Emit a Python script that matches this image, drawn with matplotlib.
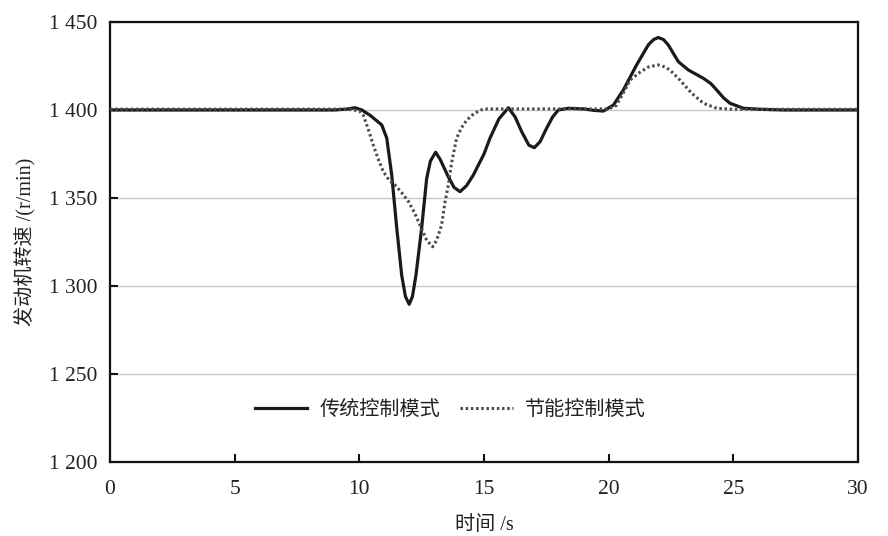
import matplotlib
matplotlib.use("Agg")
import matplotlib.pyplot as plt

# ---- data ----
t_trad = [0, 9.0, 9.5, 9.83, 10.1, 10.43, 10.9, 11.1, 11.3, 11.5, 11.7, 11.85, 12.0,
          12.13, 12.27, 12.5, 12.7, 12.85, 13.06, 13.24, 13.57, 13.8, 14.04, 14.3,
          14.57, 15.0, 15.24, 15.6, 15.98, 16.25, 16.51, 16.8, 17.02, 17.25, 17.51,
          17.75, 17.98, 18.38, 19.0, 19.4, 19.79, 20.19, 20.59, 21.12, 21.59, 21.8,
          21.99, 22.2, 22.39, 22.6, 22.8, 23.2, 23.8, 24.1, 24.33, 24.6, 24.87, 25.4,
          26.07, 27.0, 30.0]
rpm_trad = [1400, 1400, 1400.5, 1401.3, 1400, 1397, 1391.5, 1384, 1363, 1333, 1306, 1294,
            1289.6, 1294, 1306, 1333, 1361, 1371, 1376, 1372, 1362, 1356, 1353.6, 1357,
            1363, 1375, 1384, 1395, 1401.3, 1396, 1387.7, 1380, 1378.6, 1382, 1389.6,
            1396, 1400, 1401, 1400.6, 1399.8, 1399.4, 1402.8, 1411.4, 1425.6, 1437, 1440,
            1441.2, 1440, 1437, 1432, 1427.4, 1422.7, 1418, 1415, 1411.4, 1407, 1403.8,
            1401, 1400.4, 1400, 1400]

t_save = [0, 9.5, 10.0, 10.16, 10.36, 10.56, 10.76, 10.96, 11.2, 11.43, 11.7, 11.97,
          12.2, 12.43, 12.7, 12.94, 13.1, 13.3, 13.44, 13.57, 13.7, 13.9, 14.1, 14.31,
          14.6, 14.97, 16.0, 20.0, 20.3, 20.6, 20.86, 21.26, 21.6, 21.99, 22.25, 22.46,
          22.86, 23.33, 23.8, 24.33, 25.0, 30.0]
rpm_save = [1400.5, 1400.5, 1399.5, 1397, 1389, 1380, 1372, 1365, 1360, 1357.4, 1353,
            1348, 1342, 1334.7, 1326, 1322.3, 1326, 1334.7, 1348, 1357.4, 1370, 1383.9,
            1390, 1394.3, 1398, 1400.6, 1400.6, 1400.6, 1402.5, 1410, 1417, 1421.5,
            1424.5, 1425.6, 1424.5, 1422.7, 1417, 1409.5, 1403.8, 1401, 1400.4, 1400.4]

x_ticks = [0, 5, 10, 15, 20, 25, 30]
y_ticks = [1200, 1250, 1300, 1350, 1400, 1450]
y_tick_labels = ["1 200", "1 250", "1 300", "1 350", "1 400", "1 450"]
series_names = ["传统控制模式", "节能控制模式"]
x_label = "时间 /s"
y_label = "发动机转速 /(r/min)"

FAM = ["Liberation Serif", "Noto Sans CJK SC", "DejaVu Sans"]
plt.rcParams["font.family"] = FAM

fig = plt.figure(figsize=(8.88, 5.36), dpi=100)
ax = fig.add_axes([110 / 888, 74 / 536, 748 / 888, 440 / 536])

ax.plot(t_trad, rpm_trad, color="#1a1a1a", lw=2.3, solid_joinstyle="round",
        label=series_names[0], zorder=3)
ax.plot(t_save, rpm_save, color="#4a4a4a", lw=2.2, linestyle=(0, (0.8, 0.9)),
        label=series_names[1], zorder=3)

ax.set_xlim(0, 30)
ax.set_ylim(1200, 1450)
ax.set_xticks(x_ticks)
ax.set_xticklabels([str(v) for v in x_ticks])
ax.set_yticks(y_ticks)
ax.set_yticklabels(y_tick_labels)

ax.grid(axis="y", color="#c8c8c8", lw=1.0, zorder=0)
ax.set_axisbelow(True)
for s in ax.spines.values():
    s.set_linewidth(1.6)
    s.set_color("#111111")
ax.tick_params(direction="in", length=6, width=1.5, labelsize=15.5, colors="#111111")
ax.tick_params(axis="x", pad=13)
ax.tick_params(axis="y", pad=9)
for lab in ax.get_xticklabels() + ax.get_yticklabels():
    lab.set_color("#222222")

ax.set_xlabel(x_label, fontsize=14.5, color="#222222", labelpad=12)
ax.set_ylabel(y_label, fontsize=14.5, color="#222222", labelpad=10)

leg = ax.legend(loc="center", bbox_to_anchor=(0.455, 0.118), ncol=2, frameon=False,
                fontsize=14.5, handlelength=2.6, handletextpad=0.6,
                columnspacing=1.0)
for txt in leg.get_texts():
    txt.set_color("#222222")

fig.savefig("out.png", dpi=100)
